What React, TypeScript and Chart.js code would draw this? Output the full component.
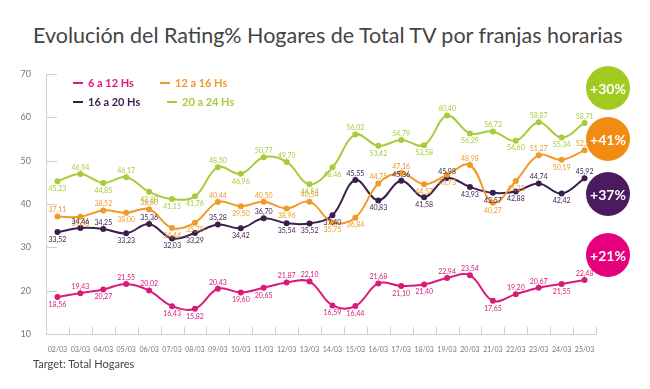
import React, { useEffect, useRef } from "react";
import { Chart, registerables } from "chart.js";

Chart.register(...registerables);

const categories = [
  "02/03", "03/03", "04/03", "05/03", "06/03", "07/03", "08/03", "09/03",
  "10/03", "11/03", "12/03", "13/03", "14/03", "15/03", "16/03", "17/03",
  "18/03", "19/03", "20/03", "21/03", "22/03", "23/03", "24/03", "25/03",
];

const seriesNames = ["6 a 12 Hs", "12 a 16 Hs", "16 a 20 Hs", "20 a 24 Hs"];

const morning = [
  18.56, 19.43, 20.27, 21.55, 20.02, 16.43, 15.82, 20.43, 19.6, 20.65, 21.87, 22.1,
  16.59, 16.44, 21.68, 21.1, 21.4, 22.94, 23.54, 17.65, 19.2, 20.67, 21.55, 22.48,
];
const midday = [
  37.11, 37.06, 38.52, 38.0, 38.8, 34.44, 35.7, 40.44, 39.5, 40.5, 38.96, 40.54,
  35.75, 36.84, 44.75, 47.16, 44.57, 46.73, 48.98, 40.27, 45.32, 51.27, 50.19, 52.38,
];
const evening = [
  33.52, 34.46, 34.25, 33.23, 35.36, 32.03, 33.29, 35.28, 34.42, 36.7, 35.54, 35.52,
  37.4, 45.55, 40.83, 45.36, 41.58, 45.98, 43.93, 42.57, 42.88, 44.74, 42.42, 45.92,
];
const night = [
  45.23, 46.94, 44.85, 46.17, 42.8, 41.15, 41.76, 48.5, 46.96, 50.77, 49.7, 44.54,
  48.46, 56.02, 53.42, 54.79, 53.58, 60.4, 56.29, 56.73, 54.6, 58.87, 55.34, 58.71,
];

const yMin = 10;
const yMax = 70;
const yStep = 10;

const growthLabels = ["+30%", "+41%", "+37%", "+21%"];

const COLORS = {
  pink: "#d81b7a",
  orange: "#f09a2a",
  purple: "#3b1f4c",
  green: "#a6cc3a",
};

const fmt = (v: number) => v.toFixed(2).replace(".", ",");

const valueLabelsPlugin = {
  id: "valueLabels",
  afterDatasetsDraw(chart: any) {
    const ctx = chart.ctx;
    ctx.save();
    ctx.font = "7px Lato";
    ctx.textAlign = "center";
    chart.data.datasets.forEach((ds: any, di: number) => {
      const meta = chart.getDatasetMeta(di);
      const vals = ds.data as number[];
      meta.data.forEach((pt: any, i: number) => {
        const v = vals[i];
        const prev = i > 0 ? vals[i - 1] : vals[i + 1];
        const next = i < vals.length - 1 ? vals[i + 1] : vals[i - 1];
        const above = v >= (prev + next) / 2;
        ctx.fillStyle = ds.borderColor;
        ctx.textBaseline = above ? "bottom" : "top";
        ctx.fillText(fmt(v), pt.x, above ? pt.y - 3 : pt.y + 4);
      });
    });
    ctx.restore();
  },
};

const axisMarksPlugin = {
  id: "axisMarks",
  beforeDatasetsDraw(chart: any) {
    const { ctx, chartArea, scales } = chart;
    const y = scales.y;
    ctx.save();
    ctx.strokeStyle = "#cfcfcf";
    ctx.lineWidth = 1;
    for (let v = yMin; v <= yMax; v += yStep) {
      const py = Math.round(y.getPixelForValue(v)) + 0.5;
      ctx.beginPath();
      ctx.moveTo(chartArea.left, py);
      ctx.lineTo(chartArea.left + 11, py);
      ctx.stroke();
    }
    const n = categories.length;
    const w = (chartArea.right - chartArea.left) / n;
    for (let i = 1; i <= n; i++) {
      const px = Math.round(chartArea.left + i * w) + 0.5;
      ctx.beginPath();
      ctx.moveTo(px, chartArea.bottom);
      ctx.lineTo(px, chartArea.bottom - 7);
      ctx.stroke();
    }
    ctx.restore();
  },
};

export default function App() {
  const canvasRef = useRef<HTMLCanvasElement | null>(null);

  useEffect(() => {
    if (!canvasRef.current) return;
    const mk = (label: string, data: number[], color: string) => ({
      label,
      data,
      borderColor: color,
      backgroundColor: color,
      pointBackgroundColor: color,
      pointBorderColor: color,
      pointRadius: 2,
      borderWidth: 2,
      tension: 0.38,
      fill: false,
    });
    const chart = new Chart(canvasRef.current, {
      type: "line",
      data: {
        labels: categories,
        datasets: [
          mk(seriesNames[0], morning, COLORS.pink),
          mk(seriesNames[1], midday, COLORS.orange),
          mk(seriesNames[2], evening, COLORS.purple),
          mk(seriesNames[3], night, COLORS.green),
        ],
      },
      options: {
        animation: false,
        responsive: false,
        maintainAspectRatio: false,
        layout: { padding: { left: 0, top: 74, right: 54, bottom: 35 } },
        plugins: {
          legend: { display: false },
          title: { display: false },
          tooltip: { enabled: false },
        },
        scales: {
          x: {
            type: "category",
            offset: true,
            grid: { display: false, offset: true },
            border: { display: true, color: "#cfcfcf" },
            ticks: {
              font: { family: "Lato", size: 7 },
              color: "#777",
              maxRotation: 0,
              autoSkip: false,
              padding: 4,
            },
            afterFit: (s: any) => {
              s.height = 20;
            },
          },
          y: {
            min: yMin,
            max: yMax,
            grid: { display: false },
            border: { display: true, color: "#cfcfcf" },
            ticks: {
              stepSize: yStep,
              font: { family: "Lato", size: 9 },
              color: "#777",
              padding: 7,
            },
            afterFit: (s: any) => {
              s.width = 46;
            },
          },
        },
      } as any,
      plugins: [axisMarksPlugin, valueLabelsPlugin],
    });
    return () => chart.destroy();
  }, []);

  const legendItems = [
    { name: seriesNames[0], color: "#e0197d", left: 73, top: 76 },
    { name: seriesNames[1], color: COLORS.orange, left: 160, top: 76 },
    { name: seriesNames[2], color: COLORS.purple, left: 73, top: 95 },
    { name: seriesNames[3], color: COLORS.green, left: 167, top: 95 },
  ];

  const badges = [
    { text: growthLabels[0], color: "#a1cb21", cy: 88 },
    { text: growthLabels[1], color: "#f08c12", cy: 139 },
    { text: growthLabels[2], color: "#4a1b5e", cy: 194 },
    { text: growthLabels[3], color: "#e6007e", cy: 255 },
  ];

  return (
    <div
      style={{
        position: "absolute",
        left: 0,
        top: 0,
        width: 650,
        height: 389,
        background: "#fff",
        fontFamily: "Lato, sans-serif",
        overflow: "hidden",
      }}
    >
      <div
        style={{
          position: "absolute",
          left: 33,
          top: 22,
          fontSize: 21.5,
          color: "#444",
          whiteSpace: "nowrap",
          lineHeight: "26px",
        }}
      >
        Evolución del Rating% Hogares de Total TV por franjas horarias
      </div>
      <canvas
        ref={canvasRef}
        width={650}
        height={389}
        style={{ position: "absolute", left: 0, top: 0 }}
      />
      {legendItems.map((it) => (
        <div
          key={it.name}
          style={{
            position: "absolute",
            left: it.left,
            top: it.top,
            display: "flex",
            alignItems: "center",
            color: it.color,
            fontWeight: 700,
            fontSize: 11,
            lineHeight: "13px",
            whiteSpace: "nowrap",
          }}
        >
          <span
            style={{
              display: "inline-block",
              width: 10,
              height: 2,
              background: it.color,
              marginRight: 5,
            }}
          />
          {it.name}
        </div>
      ))}
      {badges.map((b) => (
        <div
          key={b.text}
          style={{
            position: "absolute",
            left: 608 - 22,
            top: b.cy - 22,
            width: 44,
            height: 44,
            borderRadius: "50%",
            background: b.color,
            color: "#fff",
            fontWeight: 700,
            fontSize: 14,
            display: "flex",
            alignItems: "center",
            justifyContent: "center",
          }}
        >
          {b.text}
        </div>
      ))}
      <div
        style={{
          position: "absolute",
          left: 33,
          top: 357,
          fontSize: 11,
          color: "#444",
          whiteSpace: "nowrap",
        }}
      >
        Target: Total Hogares
      </div>
    </div>
  );
}
